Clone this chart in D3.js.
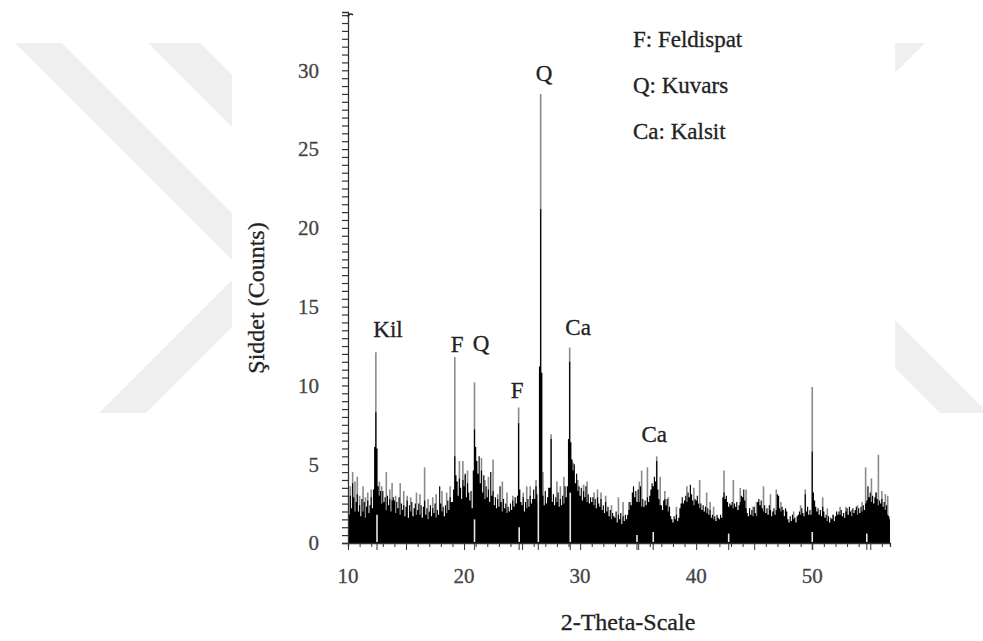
<!DOCTYPE html>
<html><head><meta charset="utf-8">
<script src="https://cdn.jsdelivr.net/npm/d3@7"></script>
<style>body{margin:0;background:#fff}svg{display:block}text{font-family:"Liberation Serif","DejaVu Serif",serif}</style>
</head><body>
<svg id="c" width="983" height="641"></svg>
<script>
// ---------- DATA ----------
const thetaStart = 10.0;
const thetaStep = 0.1;
// dark body of the pattern, one value per 0.1 deg from 10.0 to 56.7
const blackCounts = [
  2.6,1.8,3.0,2.2,3.8,2.9,2.0,2.6,3.1,2.0,
  2.4,1.7,2.8,2.0,2.6,1.6,2.3,2.7,1.9,2.4,
  2.9,2.2,3.4,6.1,8.3,6.0,3.6,3.0,3.3,2.5,
  3.3,2.6,2.9,2.1,3.0,2.4,2.8,2.0,2.7,2.9,
  2.7,1.9,2.6,2.2,2.9,1.8,2.5,2.1,2.4,1.7,
  2.3,2.7,1.6,2.4,2.0,2.6,1.7,2.2,2.5,1.8,
  2.1,2.5,1.8,2.4,1.6,2.3,2.7,1.8,2.2,1.5,
  2.0,2.4,1.7,2.2,1.9,2.5,1.6,2.1,1.8,3.6,
  2.5,2.0,2.3,1.7,2.4,1.9,2.7,2.1,2.9,2.6,
  2.6,3.4,5.5,4.3,3.9,3.0,4.1,3.5,2.8,4.0,
  3.6,4.4,2.9,3.8,3.2,2.7,3.3,2.2,4.6,7.2,
  6.1,5.2,4.4,5.5,3.8,4.6,3.2,4.3,2.8,3.6,
  2.9,3.4,2.6,4.5,3.0,3.3,2.4,2.9,2.2,2.8,
  2.3,3.6,2.6,2.0,2.8,2.2,2.5,1.9,2.3,2.0,
  2.5,2.1,2.7,2.3,2.9,2.5,3.0,7.6,3.4,2.6,
  2.4,2.9,2.0,2.6,2.2,2.8,2.3,3.0,2.5,2.8,
  3.4,2.8,3.6,3.1,2.6,11.2,21.2,10.8,3.0,2.4,
  3.3,2.5,2.9,3.5,3.5,6.6,2.6,3.1,2.4,2.9,
  2.6,3.2,2.3,2.8,2.4,3.0,2.5,3.6,2.9,3.6,
  6.6,11.5,6.4,5.3,4.6,5.0,3.8,4.4,3.3,3.6,
  3.0,3.5,2.7,3.3,2.9,3.6,2.6,3.1,2.5,2.9,
  2.6,2.9,2.4,2.8,2.2,2.9,2.5,2.3,2.8,2.1,
  2.4,1.9,2.6,2.0,2.3,1.7,2.1,1.5,1.9,1.7,
  1.6,2.0,1.3,1.8,1.5,1.9,1.2,1.7,1.4,1.8,
  1.5,1.8,2.1,2.6,2.4,3.2,3.6,2.9,3.3,2.6,
  3.4,2.6,3.6,2.3,2.8,2.3,2.7,2.4,2.9,2.6,
  3.0,3.4,3.8,3.6,4.2,3.9,5.2,3.4,2.8,2.4,
  2.4,2.1,2.7,2.8,2.4,2.8,2.0,2.3,1.7,1.5,
  1.3,1.7,1.5,1.8,1.4,1.6,2.2,2.5,2.9,2.5,
  2.7,3.0,2.6,3.2,2.9,3.7,3.1,2.7,2.4,2.8,
  2.7,3.0,2.5,2.2,2.5,2.1,2.4,2.0,2.3,1.9,
  2.2,1.8,2.1,1.6,1.8,1.5,1.7,1.4,1.8,1.6,
  1.5,1.8,1.6,2.9,3.2,2.8,3.0,2.6,2.3,2.5,
  2.4,2.6,2.2,2.5,2.3,2.6,2.1,2.4,2.6,3.0,
  2.9,3.4,2.7,2.2,1.9,1.7,2.2,1.8,2.1,1.7,
  2.3,1.9,1.7,2.6,2.8,2.4,2.7,2.2,2.0,2.4,
  1.9,2.2,1.8,2.4,2.1,1.7,2.0,2.2,1.8,2.1,
  3.1,3.0,2.2,2.0,2.3,2.1,1.7,2.2,2.0,1.5,
  1.3,1.7,1.4,1.8,1.5,1.6,1.3,1.7,1.8,2.0,
  1.8,2.2,1.9,1.7,3.1,2.0,2.3,1.8,2.1,1.8,
  5.8,3.2,2.7,2.3,2.0,2.2,1.8,2.1,1.7,2.3,
  2.0,1.6,1.8,1.4,1.7,1.3,1.6,1.5,1.8,1.4,
  1.7,2.0,1.8,2.0,1.8,2.1,1.7,1.9,1.6,2.0,
  2.2,1.8,2.3,2.0,1.7,2.2,1.9,2.1,2.3,1.8,
  2.2,1.9,2.3,2.0,2.4,2.1,2.5,2.7,3.6,2.9,
  3.2,2.6,3.0,2.5,2.9,3.2,2.8,2.4,2.7,2.5,
  2.8,2.3,2.6,2.1,2.4,1.8,1.7,1.5
];
// thin (grey) spikes: [2-theta, counts]
const greySpikes = [
  [10.2,3.6],[10.4,4.5],[10.6,3.9],[10.8,4.2],[11.0,3.0],[11.3,3.6],[11.5,2.9],[11.7,3.2],
  [12.0,3.4],[12.4,12.1],[12.7,3.9],[12.9,3.6],[13.3,4.5],[13.6,3.4],[13.8,3.8],[14.1,3.0],
  [14.5,3.8],[14.8,3.3],[15.1,3.0],[15.4,2.9],[15.9,3.2],[16.2,3.1],[16.6,4.8],[16.9,2.8],
  [17.3,2.9],[17.6,3.1],[18.1,3.3],[18.5,3.2],[18.8,3.6],[19.2,11.8],[19.6,5.2],[19.9,5.2],
  [20.1,4.3],[20.3,4.6],[20.9,10.2],[21.5,5.4],[21.8,4.0],[22.1,4.2],[22.5,5.3],[22.9,3.1],
  [23.3,3.9],[23.7,3.2],[24.2,3.0],[24.7,8.6],[25.1,3.2],[25.4,3.6],[25.7,3.6],[26.2,4.0],
  [26.6,28.5],[26.8,4.5],[27.5,6.9],[28.0,3.9],[28.3,3.6],[28.6,4.2],[29.1,12.4],[29.4,5.1],
  [29.8,4.0],[30.3,3.7],[30.6,3.9],[31.2,3.2],[31.5,3.4],[31.8,3.2],[32.2,3.0],[32.7,2.4],
  [33.3,2.9],[33.7,2.6],[34.2,2.6],[34.6,3.2],[35.1,3.9],[35.3,4.6],[35.8,4.8],[36.6,5.5],
  [36.9,4.2],[37.3,3.3],[37.6,2.9],[38.3,2.3],[39.2,3.6],[39.8,3.5],[40.3,4.0],[40.9,3.2],
  [41.2,2.6],[41.5,2.3],[42.4,4.6],[43.2,4.0],[43.8,3.5],[44.3,3.4],[44.9,2.3],[45.2,2.6],
  [45.8,3.6],[46.4,3.1],[46.9,3.4],[47.3,2.6],[47.7,2.1],[48.4,2.0],[49.0,2.4],[49.4,3.4],
  [50.0,9.9],[50.9,2.9],[51.3,2.2],[51.8,1.8],[52.4,2.3],[52.9,2.3],[53.4,2.1],[53.9,2.4],
  [54.3,2.6],[54.6,4.8],[55.1,4.1],[55.5,3.2],[55.7,5.6],[56.0,3.3],[56.3,3.1],[56.5,3.0]
];
// reference stick markers near the base: [2-theta, counts]
const refMarks = [
  [12.5,1.8],[20.9,1.5],[24.75,1.0],[26.4,3.5],[29.15,3.2],
  [34.9,0.5],[36.3,0.7],[42.8,0.6],[50.0,0.7],[54.7,0.6]
];
const yTickLabels = [0,5,10,15,20,25,30];
const xTickLabels = [10,20,30,40,50];
const peakLabels = [
  {text:"Kil", theta:13.45, count:13.06},
  {text:"F",   theta:19.4,  count:12.1},
  {text:"Q",   theta:21.47, count:12.17},
  {text:"F",   theta:24.57, count:9.19},
  {text:"Q",   theta:26.9,  count:29.3},
  {text:"Ca",  theta:29.83, count:13.19},
  {text:"Ca",  theta:36.38, count:6.4}
];
const legendItems = ["F: Feldispat","Q: Kuvars","Ca: Kalsit"];
const yTitle = "Şiddet (Counts)";
const xTitle = "2-Theta-Scale";

// ---------- DRAW ----------
const svg = d3.select("#c");
const FONT = "Liberation Serif, DejaVu Serif, serif";

// watermark
const wm = [
  [[15,43],[62,43],[232,213],[232,260]],
  [[148,43],[200,43],[232,75],[232,127]],
  [[232,280],[232,327],[146,413],[99,413]],
  [[895,43],[925,43],[895,73]],
  [[895,320],[983,408],[983,413],[940,413],[895,368]]
];
svg.append("g").selectAll("path").data(wm).join("path")
  .attr("d", d => "M" + d.map(p => p.join(",")).join("L") + "Z")
  .attr("fill", "#efefef");

const x = d3.scaleLinear().domain([10, 56.7]).range([348, 890]);
const y = d3.scaleLinear().domain([0, 33.7]).range([543, 12]);

const pattern = blackCounts.map((v, i) => ({t: thetaStart + i * thetaStep, v}));

// grey thin spikes
svg.append("g").selectAll("line").data(greySpikes).join("line")
  .attr("x1", d => x(d[0])).attr("x2", d => x(d[0]))
  .attr("y1", y(0)).attr("y2", d => y(d[1]))
  .attr("stroke", "#8a8a8a").attr("stroke-width", 1.6);

// dark body
const area = d3.area().curve(d3.curveStep)
  .x(d => x(d.t)).y0(y(0)).y1(d => y(d.v));
svg.append("path").datum(pattern).attr("d", area).attr("fill", "#000");

// reference markers (light sticks in body + ticks under axis)
const rm = svg.append("g");
rm.selectAll("line.w").data(refMarks).join("line").attr("class","w")
  .attr("x1", d => x(d[0])).attr("x2", d => x(d[0]))
  .attr("y1", y(0) - 1).attr("y2", d => y(d[1]))
  .attr("stroke", "#e8e8e8").attr("stroke-width", 1.6);
rm.selectAll("line.t").data(refMarks).join("line").attr("class","t")
  .attr("x1", d => x(d[0])).attr("x2", d => x(d[0]))
  .attr("y1", y(0)).attr("y2", y(0) + 7)
  .attr("stroke", "#555").attr("stroke-width", 1.2);

// axes
const axisCol = "#333";
const xAxis = d3.axisBottom(x).tickValues(d3.range(10, 57, 1)).tickSize(4).tickFormat("");
const gx = svg.append("g").attr("transform", `translate(0,${y(0)})`).call(xAxis);
gx.select(".domain").attr("stroke", axisCol).attr("stroke-width", 1.3);
gx.selectAll(".tick line").attr("stroke", axisCol)
  .attr("y2", d => d % 5 === 0 ? 7 : 4);
svg.append("g").selectAll("text").data(xTickLabels).join("text")
  .attr("x", d => x(d)).attr("y", 583)
  .attr("text-anchor", "middle").style("font-family", FONT).attr("font-size", 21)
  .attr("fill", "#444").attr("stroke", "#444").attr("stroke-width", 0.3).text(d => d);

const yAxis = d3.axisLeft(y).tickValues(d3.range(0, 33.6, 0.5)).tickSize(6).tickFormat("");
const gy = svg.append("g").attr("transform", `translate(${x(10)},0)`).call(yAxis);
gy.select(".domain").attr("stroke", axisCol).attr("stroke-width", 1.3);
gy.selectAll(".tick line").attr("stroke", axisCol).attr("stroke-width", 1.2);
svg.append("g").selectAll("text").data(yTickLabels).join("text")
  .attr("x", 319).attr("y", d => y(d)).attr("dy", "0.35em")
  .attr("text-anchor", "end").style("font-family", FONT).attr("font-size", 21)
  .attr("fill", "#444").attr("stroke", "#444").attr("stroke-width", 0.3).text(d => d);
// small hook at the top of the y axis
svg.append("path").attr("d", `M${x(10)},${y(33.4)} q1,-4 5,-2`)
  .attr("fill", "none").attr("stroke", "#222").attr("stroke-width", 1.6);

// titles
svg.append("text").attr("transform", "translate(264,298) rotate(-90)")
  .attr("text-anchor", "middle").style("font-family", FONT).attr("font-size", 24)
  .attr("fill", "#222").attr("stroke", "#222").attr("stroke-width", 0.3).text(yTitle);
svg.append("text").attr("x", 628).attr("y", 630)
  .attr("text-anchor", "middle").style("font-family", FONT).attr("font-size", 24)
  .attr("fill", "#222").attr("stroke", "#222").attr("stroke-width", 0.3).text(xTitle);

// peak labels
svg.append("g").selectAll("text").data(peakLabels).join("text")
  .attr("x", d => x(d.theta)).attr("y", d => y(d.count))
  .attr("text-anchor", "middle").style("font-family", FONT).attr("font-size", 23)
  .attr("fill", "#222").attr("stroke", "#222").attr("stroke-width", 0.3).text(d => d.text);

// legend
svg.append("g").selectAll("text").data(legendItems).join("text")
  .attr("x", 633).attr("y", (d, i) => 47 + i * 46)
  .style("font-family", FONT).attr("font-size", 23)
  .attr("fill", "#222").attr("stroke", "#222").attr("stroke-width", 0.3).text(d => d);
</script>
</body></html>
